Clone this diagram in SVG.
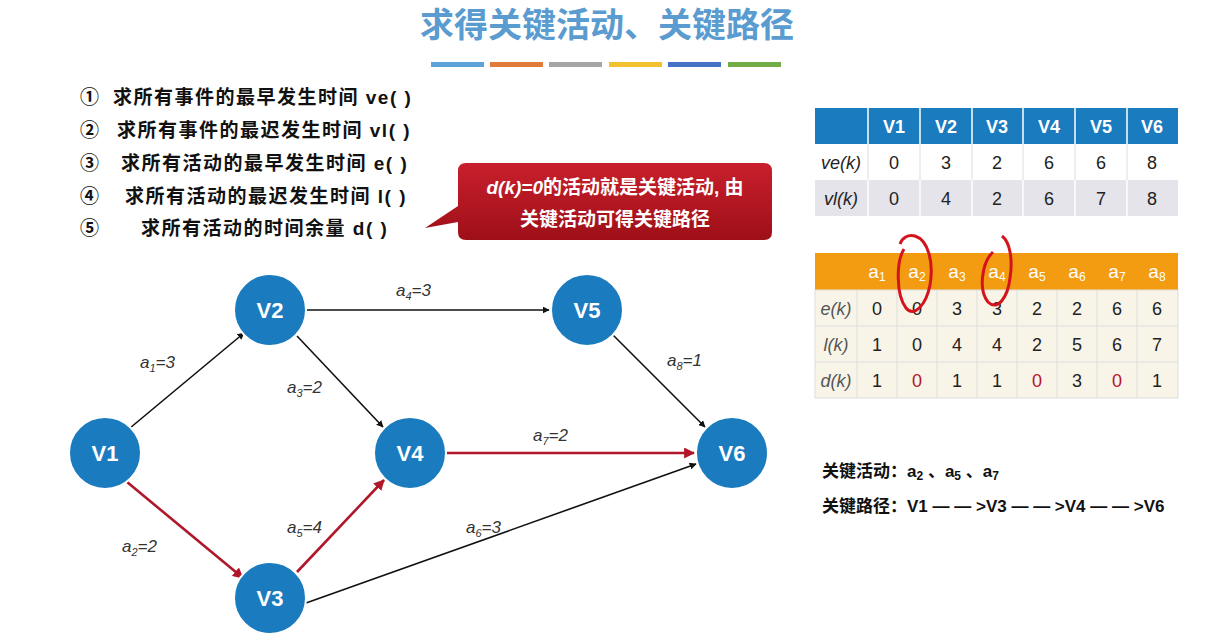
<svg xmlns="http://www.w3.org/2000/svg" width="1226" height="639" viewBox="0 0 1226 639">
<style>
.cn{font-family:"Liberation Sans","Noto Sans CJK SC",sans-serif}
.node circle{fill:#1a7bbf;stroke:#fff;stroke-width:2}
.node text{font-family:"Liberation Sans",sans-serif;font-size:22px;fill:#fff;text-anchor:middle;font-weight:bold}
.e{stroke:#111;stroke-width:1.6;fill:none;marker-end:url(#ab)}
.r{stroke:#b0172a;stroke-width:2.6;fill:none;marker-end:url(#ar)}
.lab{font-family:"Liberation Sans",sans-serif;font-style:italic;font-size:17px;fill:#333}
.li{font-family:"Liberation Sans","Noto Sans CJK SC",sans-serif;font-size:19px;fill:#111;font-weight:bold;letter-spacing:1.5px}
.tc{font-family:"Liberation Sans",sans-serif;font-size:18px;fill:#222;text-anchor:middle}
.red{fill:#b0172a}
.th{font-family:"Liberation Sans",sans-serif;font-size:18px;fill:#fff;text-anchor:middle;font-weight:bold}
.ta{font-family:"Liberation Sans",sans-serif;font-size:19px;fill:#fff;text-anchor:middle}
.tl{font-family:"Liberation Sans",sans-serif;font-size:18px;fill:#222;text-anchor:middle;font-style:italic}
.tl2{font-family:"Liberation Sans",sans-serif;font-size:18px;fill:#555;text-anchor:middle;font-style:italic}
</style>
<defs>
<marker id="ab" viewBox="0 0 10 10" refX="9" refY="5" markerWidth="7" markerHeight="7" orient="auto" markerUnits="userSpaceOnUse"><path d="M0,0L10,5L0,10z" fill="#111"/></marker>
<marker id="ar" viewBox="0 0 10 10" refX="9" refY="5" markerWidth="11" markerHeight="11" orient="auto" markerUnits="userSpaceOnUse"><path d="M0,0L10,5L0,10z" fill="#b0172a"/></marker>
<linearGradient id="cg" x1="0" y1="0" x2="0" y2="1"><stop offset="0" stop-color="#c8202c"/><stop offset="1" stop-color="#9e0f18"/></linearGradient>
</defs>
<rect width="1226" height="639" fill="#fff"/>
<text x="607" y="37" class="cn" font-size="34" fill="#5a9bd0" text-anchor="middle" font-weight="bold">求得关键活动、关键路径</text>
<g>
<rect x="431" y="62" width="53" height="5" fill="#5ba3d9"/>
<rect x="490" y="62" width="53" height="5" fill="#e07b39"/>
<rect x="549" y="62" width="53" height="5" fill="#a5a5a5"/>
<rect x="609" y="62" width="53" height="5" fill="#f2c12e"/>
<rect x="668" y="62" width="53" height="5" fill="#4472c4"/>
<rect x="728" y="62" width="53" height="5" fill="#70ad47"/>
</g>
<text x="80" y="104" class="li">①<tspan x="113">求所有事件的最早发生时间 ve( )</tspan></text>
<text x="80" y="137" class="li">②<tspan x="117">求所有事件的最迟发生时间 vl( )</tspan></text>
<text x="80" y="170" class="li">③<tspan x="121">求所有活动的最早发生时间 e( )</tspan></text>
<text x="80" y="203" class="li">④<tspan x="125">求所有活动的最迟发生时间 l( )</tspan></text>
<text x="80" y="235" class="li">⑤<tspan x="141">求所有活动的时间余量 d( )</tspan></text>
<g id="callout">
<path d="M466,163 H764 Q772,163 772,171 V232 Q772,240 764,240 H466 Q458,240 458,232 V222 L425,228 L458,206 V171 Q458,163 466,163 Z" fill="url(#cg)"/>
<text x="615" y="194" class="cn" font-size="19" fill="#fff" text-anchor="middle" font-weight="bold"><tspan font-style="italic">d(k)=0</tspan>的活动就是关键活动, 由</text>
<text x="615" y="226" class="cn" font-size="19" fill="#fff" text-anchor="middle" font-weight="bold">关键活动可得关键路径</text>
</g>
<g id="connectors">
<line x1="130" y1="428" x2="244" y2="333" class="e"/>
<line x1="127" y1="482" x2="243" y2="578" class="r"/>
<line x1="306" y1="310" x2="549" y2="310" class="e"/>
<line x1="297" y1="336" x2="383" y2="427" class="e"/>
<line x1="297" y1="572" x2="384" y2="480" class="r"/>
<line x1="306" y1="603" x2="696" y2="464" class="e"/>
<line x1="446" y1="453" x2="694" y2="453" class="r"/>
<line x1="613" y1="335" x2="705" y2="427" class="e"/>
<text x="140" y="368" class="lab">a<tspan font-size="11" dy="4">1</tspan><tspan dy="-4">=3</tspan></text>
<text x="122" y="552" class="lab">a<tspan font-size="11" dy="4">2</tspan><tspan dy="-4">=2</tspan></text>
<text x="287" y="393" class="lab">a<tspan font-size="11" dy="4">3</tspan><tspan dy="-4">=2</tspan></text>
<text x="396" y="296" class="lab">a<tspan font-size="11" dy="4">4</tspan><tspan dy="-4">=3</tspan></text>
<text x="287" y="533" class="lab">a<tspan font-size="11" dy="4">5</tspan><tspan dy="-4">=4</tspan></text>
<text x="466" y="533" class="lab">a<tspan font-size="11" dy="4">6</tspan><tspan dy="-4">=3</tspan></text>
<text x="533" y="441" class="lab">a<tspan font-size="11" dy="4">7</tspan><tspan dy="-4">=2</tspan></text>
<text x="667" y="366" class="lab">a<tspan font-size="11" dy="4">8</tspan><tspan dy="-4">=1</tspan></text>
</g>
<g id="V1" class="node"><circle cx="105" cy="453" r="36"/><text x="105" y="461">V1</text></g>
<g id="V2" class="node"><circle cx="270" cy="310" r="36"/><text x="270" y="318">V2</text></g>
<g id="V3" class="node"><circle cx="270" cy="598" r="36"/><text x="270" y="606">V3</text></g>
<g id="V4" class="node"><circle cx="410" cy="453" r="36"/><text x="410" y="461">V4</text></g>
<g id="V5" class="node"><circle cx="587" cy="310" r="36"/><text x="587" y="318">V5</text></g>
<g id="V6" class="node"><circle cx="732" cy="453" r="36"/><text x="732" y="461">V6</text></g>
<g id="table1">
<rect x="815" y="108" width="363" height="36" fill="#1a7bbf"/>
<rect x="815" y="144" width="363" height="36" fill="#fff"/>
<rect x="815" y="180" width="363" height="36" fill="#e4e4ea"/>
<g stroke="#fff" stroke-width="1.5">
<line x1="868" y1="108" x2="868" y2="216"/><line x1="920" y1="108" x2="920" y2="216"/><line x1="972" y1="108" x2="972" y2="216"/><line x1="1023" y1="108" x2="1023" y2="216"/><line x1="1075" y1="108" x2="1075" y2="216"/><line x1="1127" y1="108" x2="1127" y2="216"/>
</g>
<g stroke="#ddd" stroke-width="1"><line x1="868" y1="144" x2="868" y2="180"/><line x1="920" y1="144" x2="920" y2="180"/><line x1="972" y1="144" x2="972" y2="180"/><line x1="1023" y1="144" x2="1023" y2="180"/><line x1="1075" y1="144" x2="1075" y2="180"/><line x1="1127" y1="144" x2="1127" y2="180"/></g>
<text x="894" y="133" class="th">V1</text><text x="946" y="133" class="th">V2</text><text x="997" y="133" class="th">V3</text><text x="1049" y="133" class="th">V4</text><text x="1101" y="133" class="th">V5</text><text x="1152" y="133" class="th">V6</text>
<text x="841" y="169" class="tl">ve(k)</text>
<text x="894" y="169" class="tc">0</text><text x="946" y="169" class="tc">3</text><text x="997" y="169" class="tc">2</text><text x="1049" y="169" class="tc">6</text><text x="1101" y="169" class="tc">6</text><text x="1152" y="169" class="tc">8</text>
<text x="841" y="205" class="tl">vl(k)</text>
<text x="894" y="205" class="tc">0</text><text x="946" y="205" class="tc">4</text><text x="997" y="205" class="tc">2</text><text x="1049" y="205" class="tc">6</text><text x="1101" y="205" class="tc">7</text><text x="1152" y="205" class="tc">8</text>
</g>
<g id="table2">
<rect x="815" y="253" width="363" height="37" fill="#f39c12"/>
<rect x="815" y="290" width="363" height="108" fill="#f8f4e8" stroke="#ddd"/>
<g stroke="#ddd" stroke-width="1">
<line x1="815" y1="326" x2="1178" y2="326"/><line x1="815" y1="362" x2="1178" y2="362"/>
<line x1="857" y1="290" x2="857" y2="398"/><line x1="897" y1="290" x2="897" y2="398"/><line x1="937" y1="290" x2="937" y2="398"/><line x1="977" y1="290" x2="977" y2="398"/><line x1="1017" y1="290" x2="1017" y2="398"/><line x1="1057" y1="290" x2="1057" y2="398"/><line x1="1097" y1="290" x2="1097" y2="398"/><line x1="1137" y1="290" x2="1137" y2="398"/>
</g>
<text x="877" y="278" class="ta">a<tspan font-size="12" dy="3">1</tspan></text>
<text x="917" y="278" class="ta">a<tspan font-size="12" dy="3">2</tspan></text>
<text x="957" y="278" class="ta">a<tspan font-size="12" dy="3">3</tspan></text>
<text x="997" y="278" class="ta">a<tspan font-size="12" dy="3">4</tspan></text>
<text x="1037" y="278" class="ta">a<tspan font-size="12" dy="3">5</tspan></text>
<text x="1077" y="278" class="ta">a<tspan font-size="12" dy="3">6</tspan></text>
<text x="1117" y="278" class="ta">a<tspan font-size="12" dy="3">7</tspan></text>
<text x="1157" y="278" class="ta">a<tspan font-size="12" dy="3">8</tspan></text>
<text x="836" y="315" class="tl2">e(k)</text>
<text x="877" y="315" class="tc">0</text><text x="917" y="315" class="tc">0</text><text x="957" y="315" class="tc">3</text><text x="997" y="315" class="tc">3</text><text x="1037" y="315" class="tc">2</text><text x="1077" y="315" class="tc">2</text><text x="1117" y="315" class="tc">6</text><text x="1157" y="315" class="tc">6</text>
<text x="836" y="351" class="tl2">l(k)</text>
<text x="877" y="351" class="tc">1</text><text x="917" y="351" class="tc">0</text><text x="957" y="351" class="tc">4</text><text x="997" y="351" class="tc">4</text><text x="1037" y="351" class="tc">2</text><text x="1077" y="351" class="tc">5</text><text x="1117" y="351" class="tc">6</text><text x="1157" y="351" class="tc">7</text>
<text x="836" y="387" class="tl2">d(k)</text>
<text x="877" y="387" class="tc">1</text><text x="917" y="387" class="tc red">0</text><text x="957" y="387" class="tc">1</text><text x="997" y="387" class="tc">1</text><text x="1037" y="387" class="tc red">0</text><text x="1077" y="387" class="tc">3</text><text x="1117" y="387" class="tc red">0</text><text x="1157" y="387" class="tc">1</text>
<path d="M904,249 C896,262 896,295 906,308 C914,318 926,305 930,285 C934,262 928,240 915,236 C908,234 902,238 900,244" fill="none" stroke="#d4141c" stroke-width="3"/>
<path d="M993,252 C982,262 978,290 988,302 C998,312 1008,296 1010,278 C1013,260 1010,242 1002,236" fill="none" stroke="#d4141c" stroke-width="3"/>
</g>
<text x="822" y="477" class="cn" font-size="17" font-weight="bold" fill="#111">关键活动：a<tspan font-size="12" dy="3">2</tspan><tspan dy="-3"> 、a</tspan><tspan font-size="12" dy="3">5</tspan><tspan dy="-3"> 、a</tspan><tspan font-size="12" dy="3">7</tspan></text>
<text x="822" y="512" class="cn" font-size="17" font-weight="bold" fill="#111">关键路径：V1 — — &gt;V3 — — &gt;V4 — — &gt;V6</text>
</svg>
